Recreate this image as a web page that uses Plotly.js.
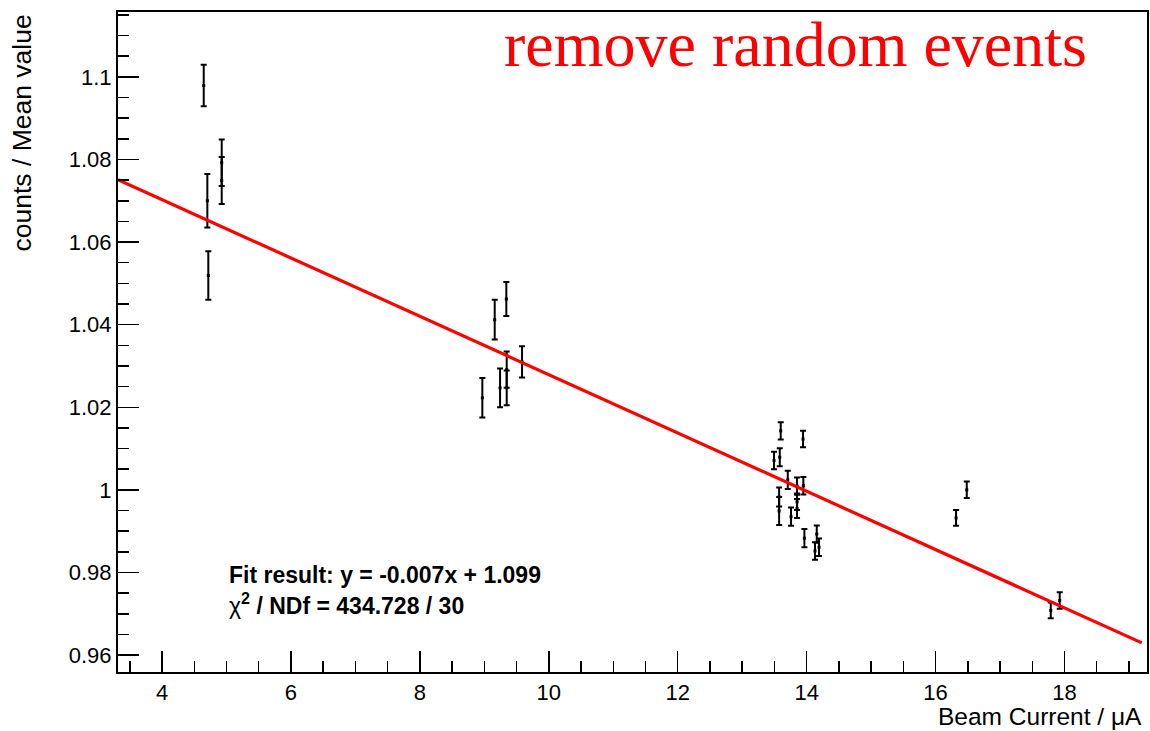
<!DOCTYPE html>
<html>
<head>
<meta charset="utf-8">
<script src="https://cdn.plot.ly/plotly-3.0.1.min.js"></script>
<style>
  html, body { margin: 0; padding: 0; background: #ffffff; }
  #chart { width: 1150px; height: 731px; }
</style>
</head>
<body>
<div id="chart"></div>
<script>
// ---- data ----
const beamCurrent = [
  4.647, 4.926, 4.926, 4.703, 4.718,
  9.161, 9.341, 9.585, 9.347, 9.347, 9.244, 8.969,
  13.598, 13.944, 13.494, 13.583, 13.707, 13.851, 13.949, 13.573, 13.573,
  13.758, 13.851, 13.851, 13.965, 14.157, 14.130, 14.192,
  16.484, 16.318, 17.787, 17.926
];
const ratio = [
  1.0979, 1.0792, 1.0749, 1.0700, 1.0519,
  1.0412, 1.0462, 1.0310, 1.0291, 1.0247, 1.0247, 1.0223,
  1.0143, 1.0123, 1.0071, 1.0079, 1.0024, 1.0009, 1.0010, 0.9983, 0.9949,
  0.9935, 0.9971, 0.9955, 0.9883, 0.9893, 0.9852, 0.9861,
  1.0000, 0.9932, 0.9708, 0.9732
];
const ratioErr = [
  0.0050, 0.0056, 0.0057, 0.0065, 0.0059,
  0.0048, 0.0041, 0.0038, 0.0044, 0.0042, 0.0047, 0.0048,
  0.0021, 0.0020, 0.0021, 0.0022, 0.0022, 0.0021, 0.0021, 0.0023, 0.0034,
  0.0022, 0.0020, 0.0023, 0.0022, 0.0021, 0.0021, 0.0021,
  0.0020, 0.0019, 0.0019, 0.0020
];
// linear fit y = slope * x + intercept over fitRange
const fitSlope = -0.00706;
const fitIntercept = 1.0985;
const fitRange = [3.317, 19.2];

const xTickVals = [4, 6, 8, 10, 12, 14, 16, 18];
const xTickText = ["4", "6", "8", "10", "12", "14", "16", "18"];
const yTickVals = [0.96, 0.98, 1.0, 1.02, 1.04, 1.06, 1.08, 1.1];
const yTickText = ["0.96", "0.98", "1", "1.02", "1.04", "1.06", "1.08", "1.1"];

const fitX = fitRange.slice();
const fitY = fitX.map(x => fitSlope * x + fitIntercept);

const sans = "Liberation Sans, Arial, Helvetica, sans-serif";

const traces = [
  {
    type: "scatter", mode: "markers",
    x: beamCurrent, y: ratio,
    error_y: { type: "data", array: ratioErr, visible: true, color: "#000000", thickness: 2, width: 3 },
    marker: { color: "#000000", size: 3, symbol: "square" },
    hoverinfo: "x+y", showlegend: false
  },
  {
    type: "scatter", mode: "lines",
    x: fitX, y: fitY,
    line: { color: "#ff0000", width: 3.2 },
    hoverinfo: "skip", showlegend: false
  }
];

const layout = {
  width: 1150, height: 731,
  paper_bgcolor: "#ffffff", plot_bgcolor: "#ffffff",
  margin: { l: 118, r: 3, t: 12, b: 59 },
  showlegend: false,
  xaxis: {
    range: [3.317, 19.28],
    showgrid: false, zeroline: false,
    showline: true, linecolor: "#000000", linewidth: 2, mirror: true,
    tickmode: "array", tickvals: xTickVals, ticktext: xTickText,
    ticks: "inside", ticklen: 21, tickwidth: 1.5, tickcolor: "#000000",
    minor: { dtick: 0.5, tick0: 0, ticks: "inside", ticklen: 11, tickwidth: 1.5, tickcolor: "#000000", showgrid: false },
    tickfont: { family: sans, size: 22, color: "#000000" }
  },
  yaxis: {
    range: [0.9559, 1.1157],
    showgrid: false, zeroline: false,
    showline: true, linecolor: "#000000", linewidth: 2, mirror: true,
    tickmode: "array", tickvals: yTickVals, ticktext: yTickText,
    ticks: "inside", ticklen: 21, tickwidth: 1.5, tickcolor: "#000000",
    minor: { dtick: 0.005, tick0: 0.96, ticks: "inside", ticklen: 11, tickwidth: 1.5, tickcolor: "#000000", showgrid: false },
    tickfont: { family: sans, size: 22, color: "#000000" }
  },
  annotations: [
    {
      xref: "paper", yref: "paper", x: 0.9961, y: -0.0679,
      xanchor: "right", yanchor: "middle", showarrow: false, borderpad: 0,
      text: "Beam Current / μA",
      font: { family: sans, size: 24.5, color: "#000000" }
    },
    {
      xref: "paper", yref: "paper", x: -0.0933, y: 1.0,
      xanchor: "center", yanchor: "top", showarrow: false, textangle: -90,
      text: "counts / Mean value",
      font: { family: sans, size: 26.5, color: "#000000" }
    },
    {
      xref: "paper", yref: "paper", x: 0.373, y: 0.951,
      xanchor: "left", yanchor: "middle", showarrow: false,
      text: "remove random events",
      font: { family: "Liberation Serif, Times New Roman, serif", size: 64, color: "#ff0000" }
    },
    {
      xref: "paper", yref: "paper", x: 0.106, y: 0.1464,
      xanchor: "left", yanchor: "middle", showarrow: false,
      text: "<b>Fit result: y = -0.007x + 1.099</b>",
      font: { family: sans, size: 23, color: "#000000" }
    },
    {
      xref: "paper", yref: "paper", x: 0.106, y: 0.1024,
      xanchor: "left", yanchor: "middle", showarrow: false,
      text: "χ<b><sup>2</sup> / NDf = 434.728 / 30</b>",
      font: { family: sans, size: 23, color: "#000000" }
    }
  ]
};

Plotly.newPlot("chart", traces, layout, { staticPlot: true, displayModeBar: false });
</script>
</body>
</html>
